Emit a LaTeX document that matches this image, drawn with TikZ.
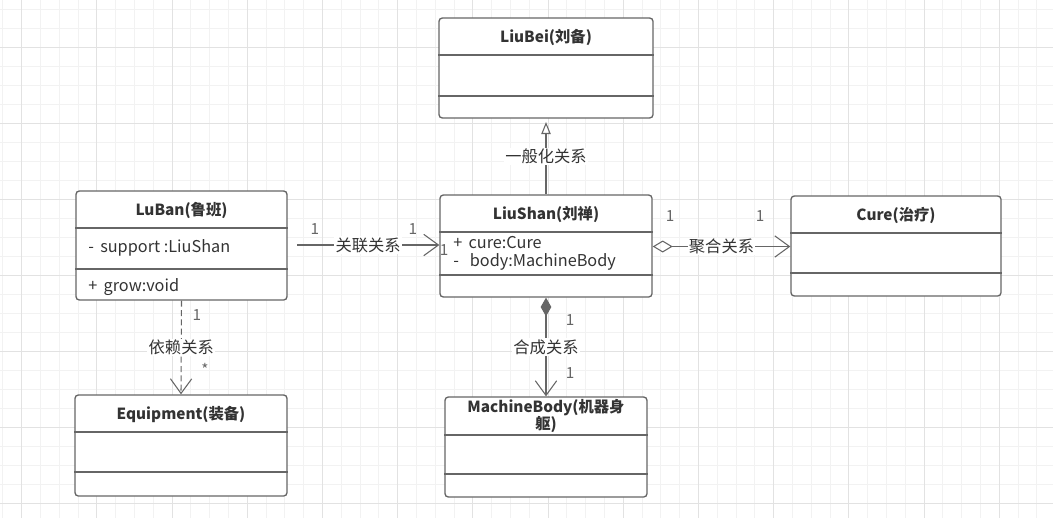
\documentclass[tikz,border=0pt]{standalone}
\usepackage{fontspec}
\setmainfont{Noto Sans CJK SC}
\usetikzlibrary{arrows.meta, fit, positioning}
\definecolor{linegray}{HTML}{666666}
\definecolor{textdark}{HTML}{333333}
\definecolor{gridminor}{HTML}{F2F2F2}
\definecolor{gridmajor}{HTML}{E2E2E2}
\tikzset{classbox/.style={draw=linegray, line width=1pt, rounded corners=2.5pt, fill=white, inner sep=0pt},
    classtitle/.style={font=\fontsize{11.5}{13}\selectfont\bfseries, text=textdark, inner sep=0pt, align=center},
    member/.style={font=\fontsize{12.2}{14}\selectfont, text=textdark, inner sep=0pt, anchor=west},
    divider/.style={draw=linegray, line width=0.9pt},
    relation/.style={draw=linegray, line width=0.8pt},
    rellabel/.style={font=\fontsize{12.2}{14}\selectfont, text=textdark, fill=white, inner sep=1pt},
    mult/.style={font=\fontsize{11.5}{13}\selectfont, text=linegray, inner sep=0pt}}

\begin{document}
\begin{tikzpicture}[x=0.75pt, y=-0.75pt]
  \useasboundingbox (0,0) rectangle (1053,518);
  % Grid
  \foreach \i in {0,...,55} \draw[gridminor, line width=0.6pt] ({2.7+18.8*\i},0) -- ++(0,518);
  \foreach \i in {0,...,27} \draw[gridminor, line width=0.6pt] (0,{9.3+19*\i}) -- ++(1053,0);
  \foreach \i in {0,...,13} \draw[gridmajor, line width=0.8pt] ({21.7+75.2*\i},0) -- ++(0,518);
  \foreach \i in {0,...,6} \draw[gridmajor, line width=0.8pt] (0,{47.3+76*\i}) -- ++(1053,0);

  % Nodes
  \node[classbox, fit={(76,191) (287,300)}] (luban) {};
  \node[classbox, fit={(440,195) (652,297)}] (liushan) {};
  \node[classbox, fit={(439,18) (653,118)}] (liubei) {};
  \node[classbox, fit={(791,196) (1001,296)}] (cure) {};
  \node[classbox, fit={(75,395) (287,496)}] (equip) {};
  \node[classbox, fit={(445,397) (647,497)}] (machine) {};

  % Dividers
  \draw[divider] (luban.west |- 0,228) -- (luban.east |- 0,228);
  \draw[divider] (luban.west |- 0,269) -- (luban.east |- 0,269);
  \draw[divider] (liushan.west |- 0,232) -- (liushan.east |- 0,232);
  \draw[divider] (liushan.west |- 0,275) -- (liushan.east |- 0,275);
  \draw[divider] (liubei.west |- 0,55) -- (liubei.east |- 0,55);
  \draw[divider] (liubei.west |- 0,96) -- (liubei.east |- 0,96);
  \draw[divider] (cure.west |- 0,233) -- (cure.east |- 0,233);
  \draw[divider] (cure.west |- 0,273) -- (cure.east |- 0,273);
  \draw[divider] (equip.west |- 0,432) -- (equip.east |- 0,432);
  \draw[divider] (equip.west |- 0,472) -- (equip.east |- 0,472);
  \draw[divider] (machine.west |- 0,435) -- (machine.east |- 0,435);
  \draw[divider] (machine.west |- 0,474) -- (machine.east |- 0,474);

  % Titles and members
  \node[classtitle] at (luban.north |- 0,210) {LuBan(鲁班)};
  \node[member] at (88,248) {-\ \,support :LiuShan};
  \node[member] at (88,287) {+\ \,grow:void};
  \node[classtitle] at (liushan.north |- 0,214) {LiuShan(刘禅)};
  \node[member] at (453,243) {+\ \,cure:Cure};
  \node[member] at (453,262) {-\ \ \ body:MachineBody};
  \node[classtitle] at (liubei.north |- 0,37) {LiuBei(刘备)};
  \node[classtitle] at (cure.north |- 0,215) {Cure(治疗)};
  \node[classtitle] at (equip.north |- 0,414) {Equipment(装备)};
  \node[classtitle] at (machine.north |- 0,416) {MachineBody(机器身\\躯)};

  % Relations
  \coordinate (assocstart) at (297,245);
  \draw[relation, -{Straight Barb[length=11pt,width=16pt]}] (assocstart) -- (liushan.west |- assocstart)
    node[rellabel, midway] {关联关系};
  \draw[relation, {Diamond[open,length=15pt,width=9pt]}-{Straight Barb[length=11pt,width=16pt]}]
    (liushan.east |- 0,246.5) -- (cure.west |- 0,246.5) node[rellabel, midway] {聚合关系};
  \draw[relation, -{Triangle[open,length=9pt,width=7pt]}, shorten >=2.5pt] (liushan.north) -- (liubei.south)
    node[rellabel, midway] {一般化关系};
  \draw[relation, {Diamond[length=14pt,width=8pt]}-{Straight Barb[length=11pt,width=16pt]}]
    (liushan.south) -- (machine.north) node[rellabel, midway] {合成关系};
  \draw[relation, dash pattern=on 4.5pt off 2.5pt, -{Straight Barb[length=11pt,width=16pt]}]
    (luban.south) -- (equip.north) node[rellabel, midway] {依赖关系};

  % Multiplicities
  \node[mult] at (315,229) {1};
  \node[mult] at (413,229) {1};
  \node[mult] at (444,250) {1};
  \node[mult] at (670,216) {1};
  \node[mult] at (760,216) {1};
  \node[mult] at (570,320) {1};
  \node[mult] at (570,373) {1};
  \node[mult] at (197,315) {1};
  \node[mult] at (205,369) {*};
\end{tikzpicture}
\end{document}
